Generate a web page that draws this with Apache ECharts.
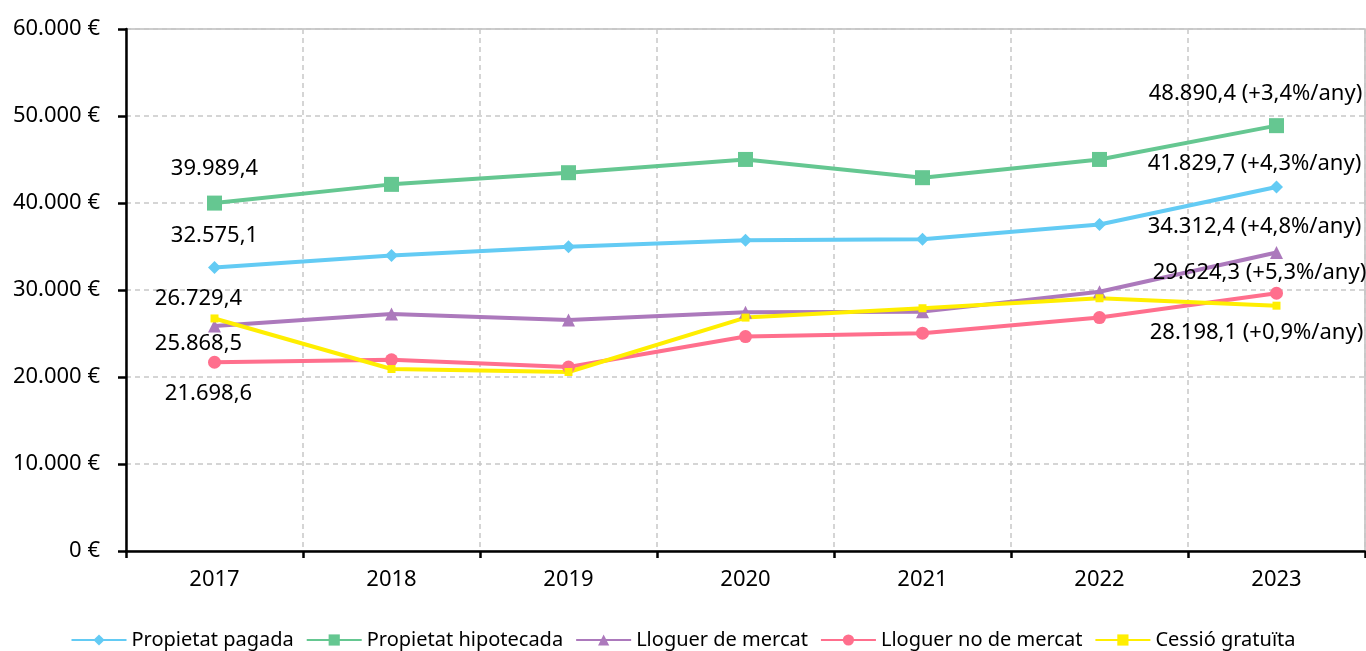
<!DOCTYPE html>
<html>
<head>
<meta charset="utf-8">
<script src="https://cdn.jsdelivr.net/npm/echarts@6/dist/echarts.min.js"></script>
<style>
  html, body { margin: 0; padding: 0; background: #fff; }
  #chart { width: 1366px; height: 651px; }
</style>
</head>
<body>
<div id="chart"></div>
<script>
const years = ['2017', '2018', '2019', '2020', '2021', '2022', '2023']

const propietatPagada = [32575.1, 33975, 34960, 35727, 35842, 37526, 41829.7]
const propietatHipotecada = [39989.4, 42142, 43482, 45006, 42910, 45006, 48890.4]
const lloguerMercat = [25868.5, 27251, 26564, 27446, 27514, 29805, 34312.4]
const lloguerNoMercat = [21698.6, 21982, 21145, 24651, 25040, 26827, 29624.3]
const cessioGratuita = [26729.4, 20916, 20573, 26827, 27904, 29050, 28198.1]

// creixement anual (primer i últim any s'etiqueten)
const growth = {
  pagada: '+4,3%/any',
  hipotecada: '+3,4%/any',
  mercat: '+4,8%/any',
  noMercat: '+5,3%/any',
  cessio: '+0,9%/any'
}

const fmt = (v) => {
  const [i, d] = v.toFixed(1).split('.')
  return i.replace(/\B(?=(\d{3})+(?!\d))/g, '.') + ',' + d
}

const txt = { color: '#000', fontFamily: 'Noto Sans', fontSize: 22 }

// etiquetes al primer i últim punt
const withLabels = (values, rate, firstOffset, lastOffset) =>
  values.map((v, i) => {
    if (i === 0) {
      return { value: v, label: { show: true, position: 'inside', offset: firstOffset, formatter: fmt(v), ...txt } }
    }
    if (i === values.length - 1) {
      return { value: v, label: { show: true, position: 'inside', offset: lastOffset, formatter: fmt(v) + ' (' + rate + ')', ...txt } }
    }
    return v
  })

const mkSeries = (name, color, symbol, size, data) => ({
  name,
  type: 'line',
  data,
  symbol,
  symbolSize: size,
  lineStyle: { color, width: 4 },
  itemStyle: { color },
  emphasis: { disabled: true },
  z: 3
})

const chart = echarts.init(document.getElementById('chart'))

chart.setOption({
  animation: false,
  grid: {
    left: 126,
    right: 1,
    top: 29,
    bottom: 100,
    show: true,
    borderColor: '#bdbdbd',
    borderWidth: 1.5
  },
  legend: {
    top: 625,
    left: 'center',
    itemWidth: 55,
    itemHeight: 14,
    itemGap: 12,
    textStyle: { color: '#000', fontFamily: 'Noto Sans', fontSize: 20 },
    data: ['Propietat pagada', 'Propietat hipotecada', 'Lloguer de mercat', 'Lloguer no de mercat', 'Cessió gratuïta']
  },
  xAxis: {
    type: 'category',
    data: years,
    boundaryGap: true,
    axisLine: { lineStyle: { color: '#000', width: 2.5 } },
    axisTick: { show: true, length: 7, lineStyle: { color: '#000', width: 2.5 } },
    axisLabel: { color: '#000', fontFamily: 'Noto Sans', fontSize: 22, margin: 18 },
    splitLine: { show: true, interval: 0, lineStyle: { color: '#c8c8c8', type: [5, 4], width: 1.5 } }
  },
  yAxis: {
    type: 'value',
    min: 0,
    max: 60000,
    interval: 10000,
    axisLine: { show: true, lineStyle: { color: '#000', width: 2.5 } },
    axisTick: { show: true, length: 8, lineStyle: { color: '#000', width: 2.5 } },
    axisLabel: {
      color: '#000',
      fontFamily: 'Noto Sans',
      fontSize: 22,
      margin: 26,
      formatter: (v) => String(v).replace(/\B(?=(\d{3})+(?!\d))/g, '.') + ' €'
    },
    splitLine: { show: true, lineStyle: { color: '#c8c8c8', type: [5, 4], width: 1.5 } }
  },
  series: [
    mkSeries('Propietat pagada', '#63CBF4', 'diamond', 13,
      withLabels(propietatPagada, growth.pagada, [0, -32], [-22, -23])),
    mkSeries('Propietat hipotecada', '#65C791', 'rect', 15,
      withLabels(propietatHipotecada, growth.hipotecada, [0, -34], [-21, -32])),
    mkSeries('Lloguer de mercat', '#AC79BC', 'triangle', 13,
      withLabels(lloguerMercat, growth.mercat, [-16, 18], [-22, -26])),
    mkSeries('Lloguer no de mercat', '#FF6F8D', 'circle', 13,
      withLabels(lloguerNoMercat, growth.noMercat, [-6, 32], [-17, -21])),
    mkSeries('Cessió gratuïta', '#FFEE00', 'rect', 8,
      withLabels(cessioGratuita, growth.cessio, [-16, -20], [-20, 27]))
  ]
})
</script>
</body>
</html>
